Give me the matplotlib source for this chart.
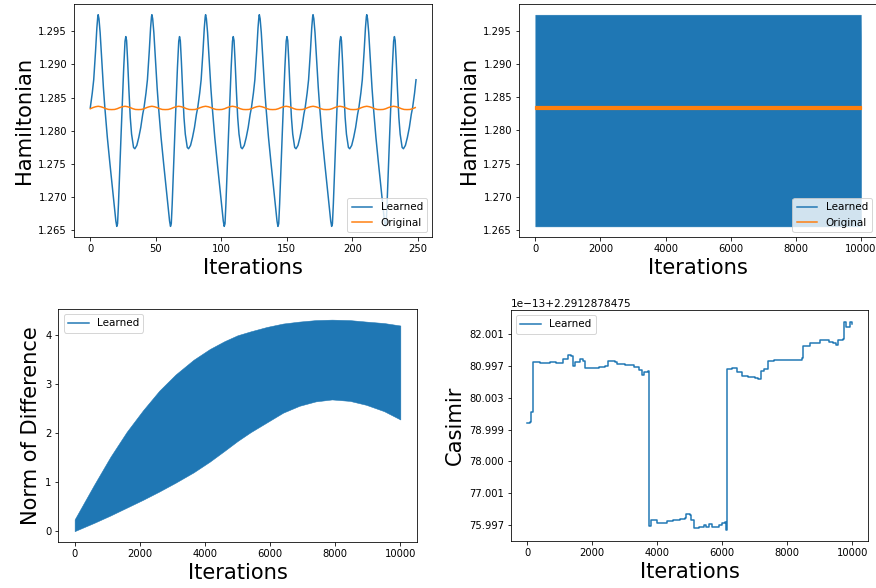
import matplotlib
matplotlib.use('Agg')
import matplotlib.pyplot as plt
from matplotlib.lines import Line2D

# --- Hamiltonian, first 250 iterations (one read cycle placed at each peak) ---
ham_peaks = [6, 47, 88, 129, 170, 211, 252]
ham_offsets = [-13, -11.5, -10, -8.5, -7, -6, -4.5, -3.4, -2, -1, -0.3, 0, 0.6, 1.5,
               2.5, 4, 5.1, 7, 9, 11, 12.5, 13.5, 14.2, 14.8, 15.5, 17.5, 19.5, 20.5,
               21.1, 21.7, 22.5, 23.5, 24.5, 25.5, 27]
ham_values = [1.2773, 1.2778, 1.2790, 1.2805, 1.2825, 1.2835, 1.2857, 1.2877, 1.2920,
              1.2955, 1.2972, 1.2975, 1.2969, 1.2948, 1.2915, 1.2865, 1.2835, 1.2790,
              1.2750, 1.2712, 1.2682, 1.2664, 1.2656, 1.2660, 1.2690, 1.2795, 1.2895,
              1.2935, 1.2942, 1.2936, 1.2905, 1.2860, 1.2820, 1.2795, 1.2775]

orig_bumps = [6, 26.5, 47, 67.5, 88, 108.5, 129, 149.5, 170, 190.5, 211, 231.5, 252]
orig_offsets = [-10.25, -8, -6, -4, -2, 0, 2, 4, 6, 8]
orig_values = [1.2832, 1.28322, 1.28333, 1.2835, 1.28363, 1.2837, 1.28363, 1.2835,
               1.28333, 1.28322]
last_iter = 249

# --- Hamiltonian, 10000 iterations (envelopes of the dense oscillation) ---
long_iters = [0, 9990, 9999]
long_upper = [1.2975, 1.2975, 1.2941]
long_lower = [1.2655, 1.2655, 1.2655]
orig_band = [1.2832, 1.2837]

# --- Norm of difference envelopes ---
nd_iters = [0, 600, 1100, 1600, 2100, 2600, 3100, 3650, 4150, 4600, 5000, 5400,
            5900, 6400, 6900, 7400, 7900, 8450, 8950, 9500, 9999]
nd_upper = [0.24, 0.95, 1.52, 2.03, 2.47, 2.87, 3.20, 3.50, 3.72, 3.88, 4.00, 4.08,
            4.17, 4.24, 4.28, 4.31, 4.32, 4.31, 4.28, 4.25, 4.20]
nd_lower = [0.0, 0.17, 0.32, 0.48, 0.64, 0.81, 0.99, 1.20, 1.42, 1.64, 1.84, 2.02,
            2.22, 2.42, 2.56, 2.65, 2.69, 2.66, 2.58, 2.45, 2.28]

# --- Casimir (units of 1e-13 above 2.2912878475) ---
cas_iters = [0, 100, 123, 170, 400, 700, 900, 1100, 1250, 1350, 1400, 1470, 1620,
             1720, 1790, 2000, 2200, 2400, 2500, 2700, 2760, 3000, 3300, 3450, 3530,
             3600, 3720, 3760, 3800, 4000, 4150, 4300, 4500, 4700, 4850, 4900, 5000,
             5050, 5120, 5300, 5450, 5500, 5600, 5700, 5900, 6000, 6090, 6110, 6160,
             6300, 6450, 6600, 6800, 7000, 7100, 7200, 7300, 7400, 7600, 7900, 8200,
             8450, 8500, 8700, 9000, 9300, 9420, 9500, 9550, 9720, 9740, 9800, 9920,
             9999]
cas_vals = [79.20, 79.23, 79.54, 81.10, 81.07, 81.11, 81.09, 81.20, 81.33, 81.30,
            80.98, 81.12, 81.21, 81.15, 80.94, 80.92, 80.96, 80.98, 81.14, 81.13,
            81.05, 81.03, 80.96, 80.86, 80.71, 80.81, 80.84, 75.98, 76.17, 76.08,
            76.06, 76.15, 76.17, 76.19, 76.23, 76.35, 76.31, 76.17, 75.92, 75.96,
            76.00, 75.94, 76.04, 75.96, 76.01, 76.08, 76.11, 75.86, 80.89, 80.94,
            80.79, 80.68, 80.65, 80.61, 80.58, 80.84, 80.89, 81.15, 81.19, 81.17,
            81.19, 81.23, 81.62, 81.70, 81.79, 81.75, 81.72, 81.65, 81.79, 81.82,
            82.38, 82.21, 82.38, 82.31]
cas_ticks = [75.997, 77.001, 78.000, 78.999, 80.003, 80.997, 82.001]
cas_offset = '1e\u221213+2.2912878475'

LABEL = 21
LEG = 10.4


def place(centres, offsets, values, stop):
    xs, ys = [], []
    for c in centres:
        for o, v in zip(offsets, values):
            if 0 <= c + o <= stop + 0.5:
                xs.append(c + o)
                ys.append(v)
    return xs, ys


fig = plt.figure(figsize=(876 / 72, 588 / 72), dpi=72)

# top left
ax1 = fig.add_axes([0.0845, 0.597, 0.409, 0.396])
hx, hy = place(ham_peaks, ham_offsets, ham_values, last_iter)
ox, oy = place(orig_bumps, orig_offsets, orig_values, last_iter)
ax1.plot(hx, hy, label='Learned')
ax1.plot(ox, oy, label='Original')
ax1.set_xlabel('Iterations', fontsize=LABEL)
ax1.set_ylabel('Hamiltonian', fontsize=LABEL)
ax1.legend(loc='lower right', fontsize=LEG)

# top right
ax2 = fig.add_axes([0.5925, 0.597, 0.409, 0.396])
ax2.fill_between(long_iters, long_lower, long_upper, color='C0', lw=0.5)
ax2.fill_between([long_iters[0], long_iters[-1]], [orig_band[0]] * 2, [orig_band[1]] * 2,
                 color='C1', lw=1.2)
ax2.set_xticks(range(0, 10001, 2000))
ax2.set_xlabel('Iterations', fontsize=LABEL)
ax2.set_ylabel('Hamiltonian', fontsize=LABEL)
ax2.legend(handles=[Line2D([], [], color='C0', label='Learned'),
                    Line2D([], [], color='C1', label='Original')],
           loc='lower right', fontsize=LEG)

# bottom left
ax3 = fig.add_axes([0.0666, 0.0787, 0.409, 0.3957])
ax3.fill_between(nd_iters, nd_lower, nd_upper, color='C0', lw=0.5)
ax3.set_xlabel('Iterations', fontsize=LABEL)
ax3.set_ylabel('Norm of Difference', fontsize=LABEL)
ax3.legend(handles=[Line2D([], [], color='C0', label='Learned')],
           loc='upper left', fontsize=LEG)

# bottom right
ax4 = fig.add_axes([0.5833, 0.0803, 0.408, 0.3923])
ax4.plot(cas_iters, cas_vals, drawstyle='steps-post', label='Learned')
ax4.set_yticks(cas_ticks)
ax4.set_yticklabels(['%.3f' % t for t in cas_ticks])
ax4.set_ylim(75.517, 82.74)
ax4.text(0, 1.006, cas_offset, transform=ax4.transAxes, fontsize=10.5, va='bottom')
ax4.set_xlabel('Iterations', fontsize=LABEL)
ax4.set_ylabel('Casimir', fontsize=LABEL)
ax4.legend(loc='upper left', fontsize=LEG)

fig.savefig('out.png', dpi=72)
